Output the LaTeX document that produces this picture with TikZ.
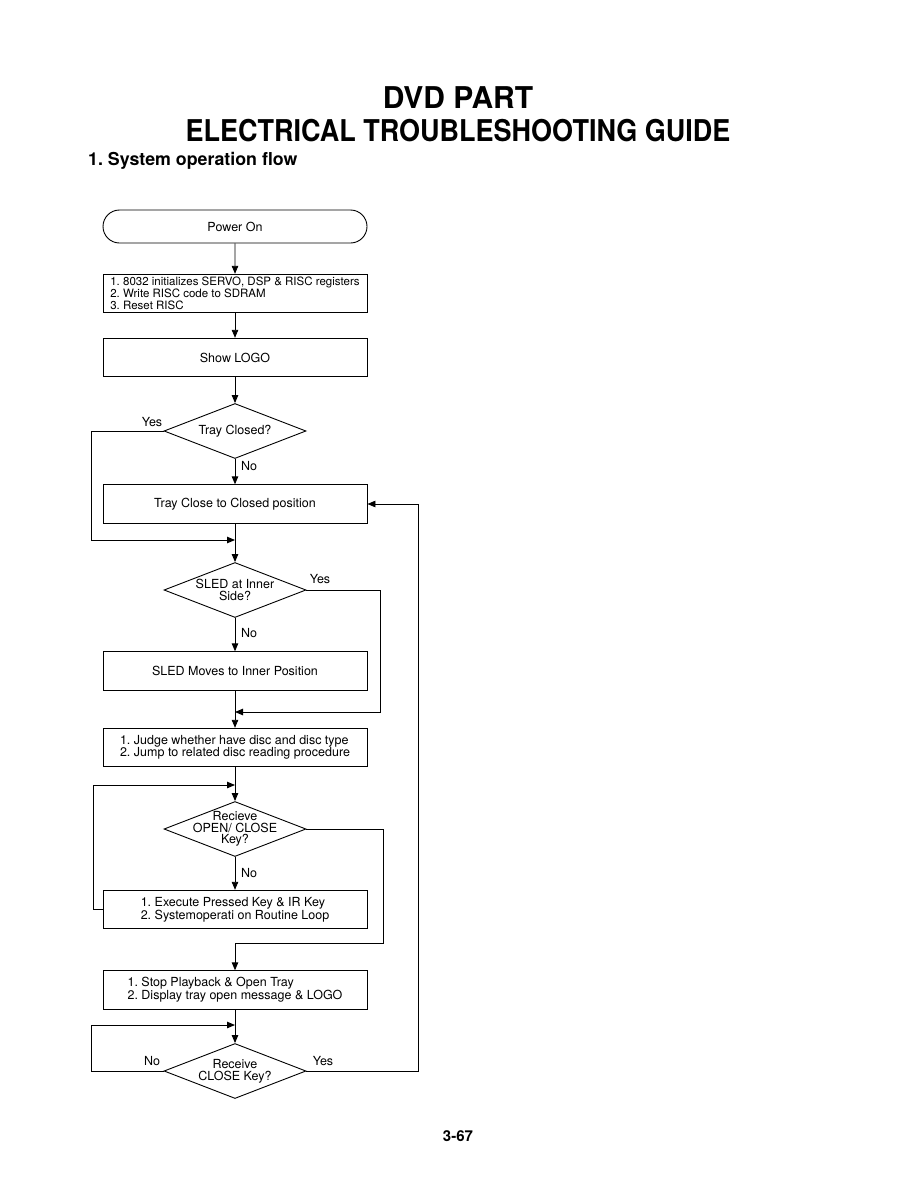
\documentclass[tikz,border=0pt]{standalone}
\usepackage{fontspec}
\setmainfont{TeX Gyre Heros}
\frenchspacing
\usetikzlibrary{positioning,arrows.meta,shapes.geometric,shapes.misc}
\tikzset{
  >={Triangle[length=8pt,width=6.5pt]},
  flow/.style={->,line width=0.9pt},
  boxfont/.style={font=\fontsize{12.5}{12}\selectfont},
  startbox/.style={draw,line width=0.9pt,rounded rectangle,minimum width=264pt,
    minimum height=33pt,inner sep=0pt,boxfont},
  procbox/.style={draw,line width=0.9pt,rectangle,minimum width=264pt,
    minimum height=38.5pt,inner sep=0pt,boxfont},
  decbox/.style={draw,line width=0.9pt,diamond,minimum width=142pt,
    minimum height=55pt,inner sep=0pt},
  dectext/.style={boxfont,align=center,inner sep=0pt,
    font=\fontsize{12.5}{11.7}\selectfont},
  yn/.style={boxfont,inner sep=0pt},
  ttlfont/.style={font=\fontsize{30}{30}\selectfont\bfseries,inner sep=0pt},
  secfont/.style={font=\fontsize{17.8}{18}\selectfont\bfseries,inner sep=0pt},
  pgfont/.style={font=\fontsize{15}{15}\selectfont\bfseries,inner sep=0pt},
}
\begin{document}
\begin{tikzpicture}[x=1pt,y=-1pt]
  \useasboundingbox (0,0) rectangle (915,1191);
  % headings
  \node[ttlfont] (ttla) at (458,98) {DVD PART};
  \node[ttlfont] (ttlb) at (458,131) {\scalebox{0.9}[1]{ELECTRICAL TROUBLESHOOTING GUIDE}};
  \node[secfont,anchor=west] (sec) at (88,161) {1. System operation flow};
  % flow boxes
  \node[startbox] (pwr) at (235,226.5) {Power On};
  \node[procbox,align=left,font=\fontsize{11.5}{12}\selectfont] (init) at (235,293.5)
    {1. 8032 initializes SERVO, DSP \& RISC registers\\
     2. Write RISC code to SDRAM\\
     3. Reset RISC};
  \node[procbox] (logo) at (235,357.5) {Show LOGO};
  \node[decbox,label={[dectext]center:Tray Closed?}] (qtray) at (235,431) {};
  \node[procbox] (close) at (235,504) {Tray Close to Closed position};
  \node[decbox,label={[dectext]center:SLED at Inner\\Side?}] (qsled) at (235,590) {};
  \node[procbox] (sledmv) at (235,671) {SLED Moves to Inner Position};
  \node[procbox,align=left] (judge) at (235,747.5)
    {1. Judge whether have disc and disc type\\
     2. Jump to related disc reading procedure};
  \node[decbox,label={[dectext]center:Recieve\\OPEN/ CLOSE\\Key?}] (qkey) at (235,829) {};
  \node[procbox,align=left] (exec) at (235,909.5)
    {1. Execute Pressed Key \& IR Key\\
     2. Systemoperati on Routine Loop};
  \node[procbox,align=left] (stop) at (235,990)
    {1. Stop Playback \& Open Tray\\
     2. Display tray open message \& LOGO};
  \node[decbox,label={[dectext]center:Receive\\CLOSE Key?}] (qclose) at (235,1071) {};
  % yes / no labels
  \node[yn] (ytray) at (152,422) {Yes};
  \node[yn] (ntray) at (249,466) {No};
  \node[yn] (ysled) at (320,579) {Yes};
  \node[yn] (nsled) at (249,633) {No};
  \node[yn] (nkey) at (249,873) {No};
  \node[yn] (nclose) at (152,1061) {No};
  \node[yn] (yclose) at (323,1061) {Yes};
  % bend points and joins
  \coordinate (btray) at (91,540);
  \coordinate (jtray) at (235,540);
  \coordinate (bsled) at (380,712);
  \coordinate (jsled) at (235,712);
  \coordinate (bexec) at (93,909.5);
  \coordinate (jexec) at (235,785);
  \coordinate (bkey) at (383,943);
  \coordinate (jkey) at (235,943);
  \coordinate (bclose) at (91,1025);
  \coordinate (jclose) at (235,1025);
  \coordinate (bback) at (418,504);
  % connectors
  \draw[flow] (pwr) -- (init);
  \draw[flow] (init) -- (logo);
  \draw[flow] (logo) -- (qtray);
  \draw[flow] (qtray) -- (close);
  \draw[flow] (qtray.west) -| (btray) -- (jtray);
  \draw[flow] (close) -- (qsled);
  \draw[flow] (qsled) -- (sledmv);
  \draw[flow] (qsled.east) -| (bsled) -- (jsled);
  \draw[flow] (sledmv) -- (judge);
  \draw[flow] (judge) -- (qkey);
  \draw[flow] (qkey) -- (exec);
  \draw[flow] (exec.west) -- (bexec) |- (jexec);
  \draw[flow] (qkey.east) -| (bkey) -- (jkey) -- (stop);
  \draw[flow] (stop) -- (qclose);
  \draw[flow] (qclose.west) -| (bclose) -- (jclose);
  \draw[flow] (qclose.east) -| (bback) -- (close.east);
  % page number
  \node[pgfont] (pgno) at (458,1136) {3-67};
\end{tikzpicture}
\end{document}
